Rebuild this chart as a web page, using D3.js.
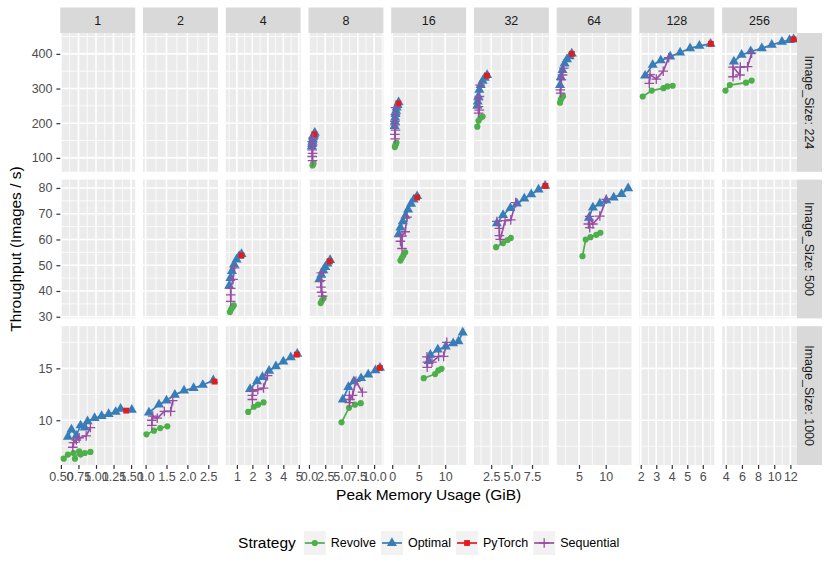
<!DOCTYPE html>
<meta charset="utf-8">
<style>
	body { margin: 0; background: #fff; }
	svg text { font-family: "Liberation Sans", Arial, Helvetica, sans-serif; }
</style>
<script src="https://cdn.jsdelivr.net/npm/d3@7"></script>
<body>
<div id="chart"></div>
<script>
// facet levels
const imageSizes = [224, 500, 1000];
const batchSizes = [1, 2, 4, 8, 16, 32, 64, 128, 256];
const strategies = ["Revolve", "Optimal", "PyTorch", "Sequential"];

// rows: [image size, batch size, peak memory (GiB), throughput (images / s)]
const revolve = [
	[224, 8, 0.55, 78], [224, 8, 0.62, 81], [224, 8, 0.7, 84],
	[224, 16, 0.5, 131], [224, 16, 0.6, 136], [224, 16, 0.7, 141], [224, 16, 0.8, 144],
	[224, 32, 0.8, 190], [224, 32, 0.95, 207], [224, 32, 1.2, 216], [224, 32, 1.45, 219],
	[224, 64, 1.45, 259], [224, 64, 1.6, 268], [224, 64, 1.8, 274], [224, 64, 2.0, 278],
	[224, 128, 2.13, 277], [224, 128, 2.71, 294], [224, 128, 3.46, 301], [224, 128, 3.72, 306], [224, 128, 4.06, 308],
	[224, 256, 3.96, 294], [224, 256, 4.5, 310], [224, 256, 6.5, 317], [224, 256, 7.2, 323],
	[500, 4, 0.55, 31.8], [500, 4, 0.62, 32.8], [500, 4, 0.7, 33.6], [500, 4, 0.8, 34.4],
	[500, 8, 1.8, 35.3], [500, 8, 2.0, 36.3], [500, 8, 2.25, 37.2],
	[500, 16, 1.55, 51.8], [500, 16, 1.8, 52.8], [500, 16, 2.1, 53.8], [500, 16, 2.45, 55],
	[500, 32, 3.1, 57], [500, 32, 3.95, 58.6], [500, 32, 4.5, 59.8], [500, 32, 4.9, 60.6],
	[500, 64, 5.65, 53.5], [500, 64, 6.25, 60], [500, 64, 7.15, 60.9], [500, 64, 8.25, 61.8], [500, 64, 9.0, 62.6],
	[1000, 1, 0.54, 6.3], [1000, 1, 0.6, 6.7], [1000, 1, 0.68, 6.85], [1000, 1, 0.7, 6.3], [1000, 1, 0.76, 7.0],
	[1000, 1, 0.78, 6.7], [1000, 1, 0.84, 6.85], [1000, 1, 0.92, 6.95],
	[1000, 2, 1.02, 8.65], [1000, 2, 1.2, 9.0], [1000, 2, 1.35, 9.25], [1000, 2, 1.52, 9.42],
	[1000, 4, 1.73, 10.8], [1000, 4, 2.1, 11.3], [1000, 4, 2.37, 11.5], [1000, 4, 2.72, 11.72],
	[1000, 8, 5.0, 9.8], [1000, 8, 6.15, 11.2], [1000, 8, 7.05, 11.5], [1000, 8, 7.95, 11.65],
	[1000, 16, 5.95, 14.05], [1000, 16, 8.1, 14.45], [1000, 16, 8.7, 14.8], [1000, 16, 9.3, 14.95]
];

const optimal = [
	[224, 8, 0.45, 133], [224, 8, 0.5, 140], [224, 8, 0.55, 147], [224, 8, 0.6, 153],
	[224, 8, 0.65, 159], [224, 8, 0.72, 164], [224, 8, 0.8, 168], [224, 8, 0.9, 172],
	[224, 16, 0.45, 192], [224, 16, 0.5, 205], [224, 16, 0.55, 216], [224, 16, 0.62, 226],
	[224, 16, 0.72, 236], [224, 16, 0.85, 245], [224, 16, 1.0, 252], [224, 16, 1.2, 260],
	[224, 32, 0.8, 250], [224, 32, 0.85, 262], [224, 32, 0.92, 277], [224, 32, 1.05, 296],
	[224, 32, 1.22, 310], [224, 32, 1.45, 322], [224, 32, 1.7, 331], [224, 32, 2.0, 339],
	[224, 64, 1.45, 310], [224, 64, 1.6, 333], [224, 64, 1.9, 353], [224, 64, 2.3, 372],
	[224, 64, 2.75, 384], [224, 64, 3.25, 393], [224, 64, 3.65, 401],
	[224, 128, 2.28, 337], [224, 128, 2.77, 368], [224, 128, 3.29, 381], [224, 128, 3.9, 392],
	[224, 128, 4.54, 404], [224, 128, 5.18, 416], [224, 128, 5.78, 423], [224, 128, 6.5, 429],
	[224, 256, 5.0, 378], [224, 256, 5.96, 397], [224, 256, 7.08, 407], [224, 256, 8.46, 416],
	[224, 256, 9.7, 426], [224, 256, 10.96, 435], [224, 256, 11.9, 440], [224, 256, 12.4, 442],
	[500, 4, 0.5, 42], [500, 4, 0.58, 45], [500, 4, 0.68, 47.7], [500, 4, 0.82, 50.3],
	[500, 4, 0.98, 52.2], [500, 4, 1.15, 53.6], [500, 4, 1.3, 54.3],
	[500, 8, 1.6, 44.5], [500, 8, 1.9, 46.3], [500, 8, 2.2, 48], [500, 8, 2.5, 49.3],
	[500, 8, 2.85, 50.6], [500, 8, 3.25, 52],
	[500, 16, 1.2, 62], [500, 16, 1.55, 64.6], [500, 16, 2.0, 67], [500, 16, 2.5, 69.2],
	[500, 16, 3.0, 71.6], [500, 16, 3.55, 73.8], [500, 16, 4.05, 75.5], [500, 16, 4.7, 76.8],
	[500, 32, 3.2, 66.3], [500, 32, 3.95, 69.5], [500, 32, 4.85, 72.2], [500, 32, 5.65, 73.9],
	[500, 32, 6.55, 75.9], [500, 32, 7.4, 77.5], [500, 32, 8.3, 79.4], [500, 32, 9.1, 80.8],
	[500, 64, 6.85, 68.4], [500, 64, 7.6, 72.4], [500, 64, 8.9, 73.9], [500, 64, 10.1, 75.2],
	[500, 64, 11.5, 76.3], [500, 64, 12.95, 77.6], [500, 64, 14.2, 79.9],
	[1000, 1, 0.6, 8.4], [1000, 1, 0.65, 9.1], [1000, 1, 0.72, 8.5], [1000, 1, 0.78, 9.5],
	[1000, 1, 0.84, 9.3], [1000, 1, 0.88, 9.9], [1000, 1, 0.98, 10.2], [1000, 1, 1.08, 10.4],
	[1000, 1, 1.18, 10.6], [1000, 1, 1.28, 10.8], [1000, 1, 1.35, 11.1], [1000, 1, 1.51, 11.0],
	[1000, 2, 1.08, 10.75], [1000, 2, 1.32, 11.5], [1000, 2, 1.5, 11.9], [1000, 2, 1.7, 12.45],
	[1000, 2, 1.92, 12.85], [1000, 2, 2.15, 13.1], [1000, 2, 2.37, 13.4], [1000, 2, 2.62, 13.85],
	[1000, 4, 1.85, 13.0], [1000, 4, 2.3, 13.75], [1000, 4, 2.65, 14.15], [1000, 4, 3.08, 14.75],
	[1000, 4, 3.52, 15.2], [1000, 4, 4.0, 15.65], [1000, 4, 4.48, 16.05], [1000, 4, 4.9, 16.4],
	[1000, 8, 5.2, 12.0], [1000, 8, 6.05, 13.2], [1000, 8, 6.9, 13.75], [1000, 8, 8.0, 14.05],
	[1000, 8, 9.1, 14.4], [1000, 8, 10.2, 14.8], [1000, 8, 10.9, 15.05],
	[1000, 16, 6.9, 15.7], [1000, 16, 7.2, 16.3], [1000, 16, 8.6, 16.8], [1000, 16, 10.1, 17.1],
	[1000, 16, 11.5, 17.4], [1000, 16, 12.5, 17.6], [1000, 16, 13.3, 18.45]
];

const pytorch = [
	[224, 8, 0.82, 168], [224, 16, 1.15, 257], [224, 32, 1.97, 337], [224, 64, 3.65, 400],
	[224, 128, 6.52, 429], [224, 256, 12.4, 442],
	[500, 4, 1.3, 53.8], [500, 8, 3.2, 51.5], [500, 16, 4.69, 76.3], [500, 32, 9.14, 80.8],
	[1000, 1, 1.43, 10.93], [1000, 2, 2.65, 13.72], [1000, 4, 4.87, 16.32], [1000, 8, 10.87, 15.04]
];

const sequential = [
	[224, 8, 0.55, 92], [224, 8, 0.5, 104], [224, 8, 0.55, 113], [224, 8, 0.5, 123],
	[224, 8, 0.55, 137], [224, 8, 0.5, 147], [224, 8, 0.6, 157],
	[224, 16, 0.55, 155], [224, 16, 0.5, 168], [224, 16, 0.6, 180], [224, 16, 0.55, 195],
	[224, 16, 0.5, 205], [224, 16, 0.6, 225], [224, 16, 0.65, 245],
	[224, 32, 0.95, 229], [224, 32, 1.05, 238], [224, 32, 0.95, 248], [224, 32, 0.95, 267],
	[224, 32, 1.05, 277], [224, 32, 1.15, 310],
	[224, 64, 1.55, 287], [224, 64, 1.5, 296], [224, 64, 1.7, 325], [224, 64, 1.9, 339], [224, 64, 2.15, 359],
	[224, 128, 2.55, 315], [224, 128, 2.6, 340], [224, 128, 3.0, 327], [224, 128, 3.45, 350], [224, 128, 3.8, 389],
	[224, 256, 4.9, 334], [224, 256, 4.9, 362], [224, 256, 5.75, 339], [224, 256, 5.8, 362],
	[224, 256, 6.7, 363], [224, 256, 7.2, 402],
	[500, 4, 0.6, 36], [500, 4, 0.6, 38.5], [500, 4, 0.6, 41], [500, 4, 0.75, 44.5], [500, 4, 0.85, 49],
	[500, 8, 2.1, 38], [500, 8, 1.95, 39.5], [500, 8, 1.85, 41.5], [500, 8, 1.8, 44], [500, 8, 1.9, 47],
	[500, 16, 1.85, 56.5], [500, 16, 1.55, 59.3], [500, 16, 1.85, 61.3], [500, 16, 2.45, 63], [500, 16, 2.8, 68.7],
	[500, 32, 3.2, 67], [500, 32, 3.5, 64.3], [500, 32, 3.5, 61.5], [500, 32, 3.6, 60],
	[500, 32, 4.2, 67.3], [500, 32, 4.9, 67.6], [500, 32, 5.5, 74.3],
	[500, 64, 7.0, 64.6], [500, 64, 6.75, 66], [500, 64, 7.6, 66], [500, 64, 7.0, 69],
	[500, 64, 8.9, 69.1], [500, 64, 10.1, 75.6],
	[1000, 1, 0.67, 7.4], [1000, 1, 0.68, 7.85], [1000, 1, 0.72, 8.1], [1000, 1, 0.76, 8.3],
	[1000, 1, 0.86, 8.5], [1000, 1, 0.92, 9.3],
	[1000, 2, 1.15, 9.5], [1000, 2, 1.15, 10.0], [1000, 2, 1.17, 10.4], [1000, 2, 1.28, 10.2],
	[1000, 2, 1.45, 10.85], [1000, 2, 1.6, 10.85], [1000, 2, 1.65, 11.9],
	[1000, 4, 2.0, 12.0], [1000, 4, 2.0, 12.4], [1000, 4, 2.02, 12.8], [1000, 4, 2.35, 12.95],
	[1000, 4, 2.72, 13.1], [1000, 4, 2.98, 14.3],
	[1000, 8, 6.2, 11.7], [1000, 8, 6.3, 12.0], [1000, 8, 6.2, 12.4], [1000, 8, 6.7, 12.4],
	[1000, 8, 7.2, 13.75], [1000, 8, 8.2, 12.7],
	[1000, 16, 6.6, 15.1], [1000, 16, 6.65, 15.6], [1000, 16, 6.55, 16.1], [1000, 16, 7.5, 15.6],
	[1000, 16, 8.75, 16.15], [1000, 16, 9.7, 16.15], [1000, 16, 10.3, 17.5]
];

// tick values and labels, one list per column / row
const xTicks = [
	[0.5, 0.75, 1, 1.25, 1.5], [1, 1.5, 2, 2.5], [1, 2, 3, 4, 5], [0, 2.5, 5, 7.5, 10], [0, 5, 10],
	[2.5, 5, 7.5], [5, 10], [2, 3, 4, 5, 6], [4, 6, 8, 10, 12]
];
const xTickLabels = [
	["0.50", "0.75", "1.00", "1.25", "1.50"], ["1.0", "1.5", "2.0", "2.5"], ["1", "2", "3", "4", "5"],
	["0.0", "2.5", "5.0", "7.5", "10.0"], ["0", "5", "10"], ["2.5", "5.0", "7.5"], ["5", "10"],
	["2", "3", "4", "5", "6"], ["4", "6", "8", "10", "12"]
];
const yTicks = [[100, 200, 300, 400], [30, 40, 50, 60, 70, 80], [10, 15]];

let W = 830, H = 571;
let plotLeft = 60.3, plotRight = 797, plotTop = 33, plotBottom = 465, gap = 7.8;
let pw = (plotRight - plotLeft - gap * 8) / 9,
	ph = (plotBottom - plotTop - gap * 2) / 3;

let colors = { Revolve: "#4DAF4A", Optimal: "#377EB8", PyTorch: "#E41A1C", Sequential: "#984EA3" };
let series = { Revolve: revolve, Optimal: optimal, PyTorch: pytorch, Sequential: sequential };
let all = [].concat(revolve, optimal, pytorch, sequential);

let svg = d3.select("#chart")
	.append("svg")
	.attr("width", W)
	.attr("height", H);

// ggplot-like 5% expansion of the data range
function expand(ext) {
	let r = ext[1] - ext[0];
	return [ext[0] - r * 0.05, ext[1] + r * 0.05];
}

let xScales = batchSizes.map((b, i) => {
	let x0 = plotLeft + i * (pw + gap);
	return d3.scaleLinear()
		.domain(expand(d3.extent(all.filter(d => d[1] === b), d => d[2])))
		.range([x0, x0 + pw]);
});
let yScales = imageSizes.map((s, j) => {
	let y0 = plotTop + j * (ph + gap);
	return d3.scaleLinear()
		.domain(expand(d3.extent(all.filter(d => d[0] === s), d => d[3])))
		.range([y0 + ph, y0]);
});

function minors(ticks, domain) {
	let step = ticks[1] - ticks[0], out = [];
	for (let t = ticks[0] - step / 2; t <= domain[1]; t += step) {
		if (t >= domain[0]) out.push(t);
	}
	return out;
}

function drawSymbol(sel, name, color) {
	if (name === "Sequential") {
		sel.append("path")
			.attr("d", "M-4.8,0H4.8M0,-4.8V4.8")
			.attr("stroke", color)
			.attr("stroke-width", 1.3)
			.attr("fill", "none");
	} else {
		let type = { Revolve: d3.symbolCircle, Optimal: d3.symbolTriangle, PyTorch: d3.symbolSquare }[name];
		let size = { Revolve: 30, Optimal: 44, PyTorch: 34 }[name];
		sel.append("path")
			.attr("d", d3.symbol().type(type).size(size)())
			.attr("fill", color);
	}
}

let line = d3.line();

imageSizes.forEach((s, j) => {
	let y = yScales[j];
	batchSizes.forEach((b, i) => {
		let x = xScales[i];
		let g = svg.append("g");
		let x0 = x.range()[0], y0 = y.range()[1];

		g.append("rect")
			.attr("x", x0).attr("y", y0)
			.attr("width", pw).attr("height", ph)
			.attr("fill", "#EBEBEB");

		// minor grid
		g.selectAll(".vmin").data(minors(xTicks[i], x.domain())).join("line")
			.attr("x1", d => x(d)).attr("x2", d => x(d))
			.attr("y1", y0).attr("y2", y0 + ph)
			.attr("stroke", "#fff").attr("stroke-width", 0.8);
		g.selectAll(".hmin").data(minors(yTicks[j], y.domain())).join("line")
			.attr("y1", d => y(d)).attr("y2", d => y(d))
			.attr("x1", x0).attr("x2", x0 + pw)
			.attr("stroke", "#fff").attr("stroke-width", 0.8);
		// major grid
		g.selectAll(".vmaj").data(xTicks[i]).join("line")
			.attr("x1", d => x(d)).attr("x2", d => x(d))
			.attr("y1", y0).attr("y2", y0 + ph)
			.attr("stroke", "#fff").attr("stroke-width", 1.6);
		g.selectAll(".hmaj").data(yTicks[j]).join("line")
			.attr("y1", d => y(d)).attr("y2", d => y(d))
			.attr("x1", x0).attr("x2", x0 + pw)
			.attr("stroke", "#fff").attr("stroke-width", 1.6);

		// lines first, sorted by x like geom_line
		strategies.forEach(name => {
			let pts = series[name].filter(d => d[0] === s && d[1] === b)
				.sort((a, c) => a[2] - c[2]);
			if (pts.length < 2) return;
			g.append("path")
				.attr("d", line(pts.map(d => [x(d[2]), y(d[3])])))
				.attr("fill", "none")
				.attr("stroke", colors[name])
				.attr("stroke-width", 1.7);
		});
		// then points
		strategies.forEach(name => {
			series[name].filter(d => d[0] === s && d[1] === b).forEach(d => {
				let p = g.append("g").attr("transform", "translate(" + x(d[2]) + "," + y(d[3]) + ")");
				drawSymbol(p, name, colors[name]);
			});
		});
	});

	// y axis per row
	let ax = svg.append("g")
		.attr("transform", "translate(" + plotLeft + ",0)")
		.call(d3.axisLeft(y).tickValues(yTicks[j]).tickSize(3.9).tickPadding(3.9));
	ax.select(".domain").remove();
	ax.selectAll(".tick line").attr("stroke", "#333").attr("stroke-width", 1.2);
	ax.selectAll(".tick text").attr("fill", "#4D4D4D").style("font-size", "12.5px")
		.style("font-family", '"Liberation Sans", Arial, sans-serif');

	// right strip
	let y0 = plotTop + j * (ph + gap);
	svg.append("rect")
		.attr("x", plotRight).attr("y", y0)
		.attr("width", 25).attr("height", ph)
		.attr("fill", "#D9D9D9");
	svg.append("text")
		.attr("transform", "translate(" + (plotRight + 12.5) + "," + (y0 + ph / 2) + ") rotate(90)")
		.attr("text-anchor", "middle")
		.attr("dy", "0.35em")
		.attr("fill", "#1A1A1A")
		.style("font-size", "12.5px")
		.text("Image_Size: " + s);
});

batchSizes.forEach((b, i) => {
	let x = xScales[i];
	let ax = svg.append("g")
		.attr("transform", "translate(0," + plotBottom + ")")
		.call(d3.axisBottom(x).tickValues(xTicks[i]).tickSize(3.9).tickPadding(3.6)
			.tickFormat((d, k) => xTickLabels[i][k]));
	ax.select(".domain").remove();
	ax.selectAll(".tick line").attr("stroke", "#333").attr("stroke-width", 1.2);
	ax.selectAll(".tick text").attr("fill", "#4D4D4D").style("font-size", "12.5px")
		.style("font-family", '"Liberation Sans", Arial, sans-serif');

	// top strip
	svg.append("rect")
		.attr("x", x.range()[0]).attr("y", 7.5)
		.attr("width", pw).attr("height", plotTop - 7.5)
		.attr("fill", "#D9D9D9");
	svg.append("text")
		.attr("x", x.range()[0] + pw / 2).attr("y", 7.5 + (plotTop - 7.5) / 2)
		.attr("dy", "0.35em")
		.attr("text-anchor", "middle")
		.attr("fill", "#1A1A1A")
		.style("font-size", "12.5px")
		.text(b);
});

// axis titles
svg.append("text")
	.attr("x", (plotLeft + plotRight) / 2).attr("y", 500)
	.attr("text-anchor", "middle")
	.style("font-size", "15.5px")
	.text("Peak Memory Usage (GiB)");
svg.append("text")
	.attr("transform", "translate(21," + (plotTop + plotBottom) / 2 + ") rotate(-90)")
	.attr("text-anchor", "middle")
	.style("font-size", "15.5px")
	.text("Throughput (Images / s)");

// legend
let legend = svg.append("g");
let title = legend.append("text")
	.attr("x", 0).attr("y", 0).attr("dy", "0.35em")
	.style("font-size", "15.5px")
	.text("Strategy");
let cx = title.node().getComputedTextLength() + 8;
strategies.forEach(name => {
	legend.append("rect")
		.attr("x", cx).attr("y", -12)
		.attr("width", 22).attr("height", 24)
		.attr("fill", "#F2F2F2");
	legend.append("line")
		.attr("x1", cx + 1).attr("x2", cx + 21)
		.attr("y1", 0).attr("y2", 0)
		.attr("stroke", colors[name]).attr("stroke-width", 1.7);
	drawSymbol(legend.append("g").attr("transform", "translate(" + (cx + 11) + ",0)"), name, colors[name]);
	let t = legend.append("text")
		.attr("x", cx + 27).attr("y", 0).attr("dy", "0.35em")
		.style("font-size", "12.5px")
		.text(name);
	cx += 27 + t.node().getComputedTextLength() + 5;
});
legend.attr("transform", "translate(" + ((plotLeft + plotRight) / 2 - (cx - 5) / 2) + ",543)");
</script>
</body>
